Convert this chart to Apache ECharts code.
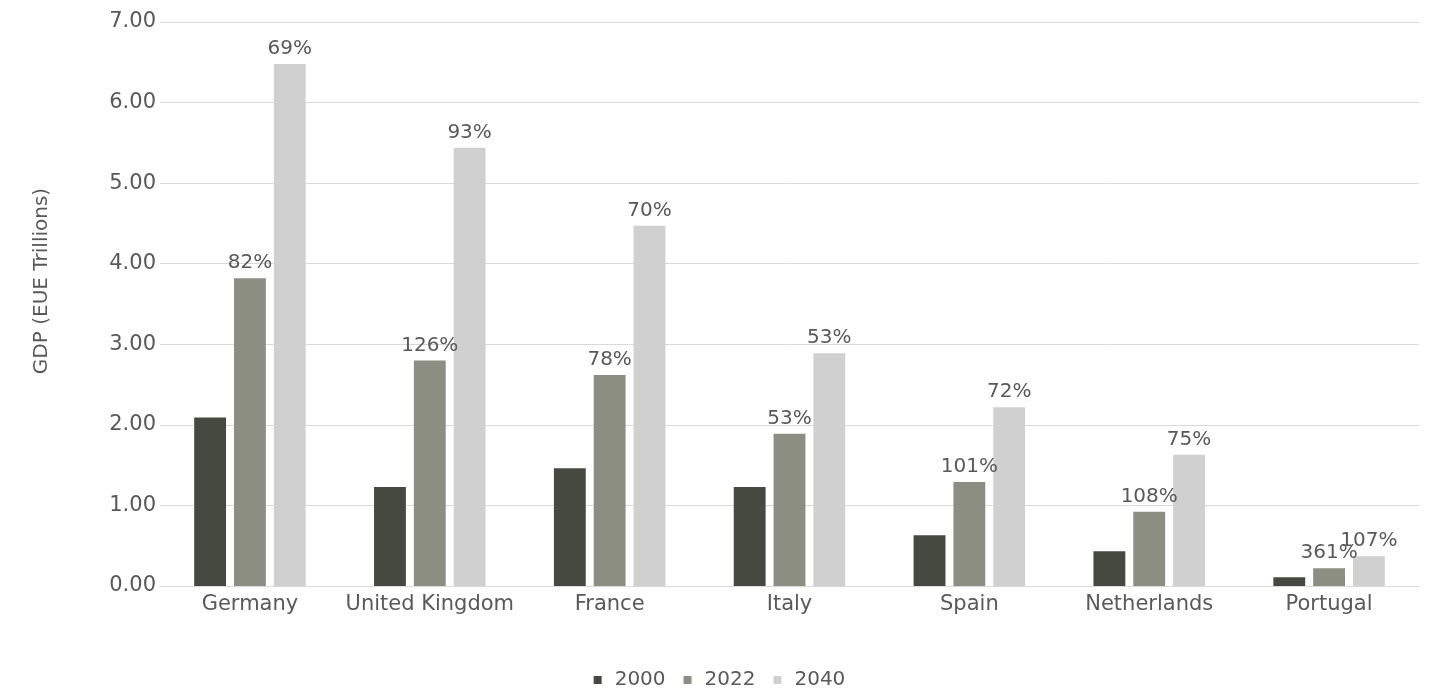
<!DOCTYPE html>
<html>
<head>
<meta charset="utf-8">
<script src="https://cdn.jsdelivr.net/npm/echarts@6/dist/echarts.min.js"></script>
<style>
  html, body { margin: 0; padding: 0; background: #fff; }
  #chart { width: 1439px; height: 693px; }
</style>
</head>
<body>
<div id="chart"></div>
<script>
// 国家与年份
const countries = ['Germany', 'United Kingdom', 'France', 'Italy', 'Spain', 'Netherlands', 'Portugal'];
const years = ['2000', '2022', '2040'];

// GDP (EUE Trillions)
const gdp2000 = [2.09, 1.23, 1.46, 1.23, 0.63, 0.43, 0.11];
const gdp2022 = [3.82, 2.80, 2.62, 1.89, 1.29, 0.92, 0.22];
const gdp2040 = [6.48, 5.44, 4.47, 2.89, 2.22, 1.63, 0.37];

// 增长百分比标签
const growth2022 = ['82%', '126%', '78%', '53%', '101%', '108%', '361%'];
const growth2040 = ['69%', '93%', '70%', '53%', '72%', '75%', '107%'];

const yTicks = [0, 1, 2, 3, 4, 5, 6, 7];

const colors = ['#464940', '#8b8e80', '#d0d0d0'];
const textColor = '#595959';
const fontFamily = '"DejaVu Sans", sans-serif';

const chart = echarts.init(document.getElementById('chart'));

const makeLabel = (labels) => ({
    show: true,
    position: 'top',
    distance: 5,
    color: textColor,
    fontSize: 20,
    fontFamily: fontFamily,
    formatter: (p) => labels[p.dataIndex]
});

const option = {
    animation: false,
    color: colors,
    textStyle: { fontFamily: fontFamily },
    grid: {
        left: 160,
        right: 20,
        top: 22,
        bottom: 107
    },
    legend: {
        bottom: -2,
        left: 'center',
        itemWidth: 8,
        itemHeight: 8,
        itemGap: 18,
        icon: 'rect',
        textStyle: { color: textColor, fontSize: 20, fontFamily: fontFamily, padding: [0, 0, 0, 8] },
        data: years
    },
    xAxis: {
        type: 'category',
        data: countries,
        axisLine: { lineStyle: { color: '#d9d9d9' } },
        axisTick: { show: false },
        axisLabel: { color: textColor, fontSize: 21, margin: 8, interval: 0 }
    },
    yAxis: {
        type: 'value',
        min: yTicks[0],
        max: yTicks[yTicks.length - 1],
        interval: 1,
        name: 'GDP (EUE Trillions)',
        nameLocation: 'middle',
        nameGap: 108,
        nameTextStyle: { color: textColor, fontSize: 20, fontFamily: fontFamily, padding: [0, 0, 0, 46] },
        axisLine: { show: false },
        axisTick: { show: false },
        splitLine: { lineStyle: { color: '#d9d9d9' } },
        axisLabel: {
            color: textColor,
            fontSize: 21,
            margin: 4,
            formatter: (v) => v.toFixed(2)
        }
    },
    series: [
        {
            name: years[0],
            type: 'bar',
            data: gdp2000,
            barGap: '25%',
            barCategoryGap: '38%'
        },
        {
            name: years[1],
            type: 'bar',
            data: gdp2022,
            label: makeLabel(growth2022)
        },
        {
            name: years[2],
            type: 'bar',
            data: gdp2040,
            label: makeLabel(growth2040)
        }
    ]
};

chart.setOption(option);
</script>
</body>
</html>
